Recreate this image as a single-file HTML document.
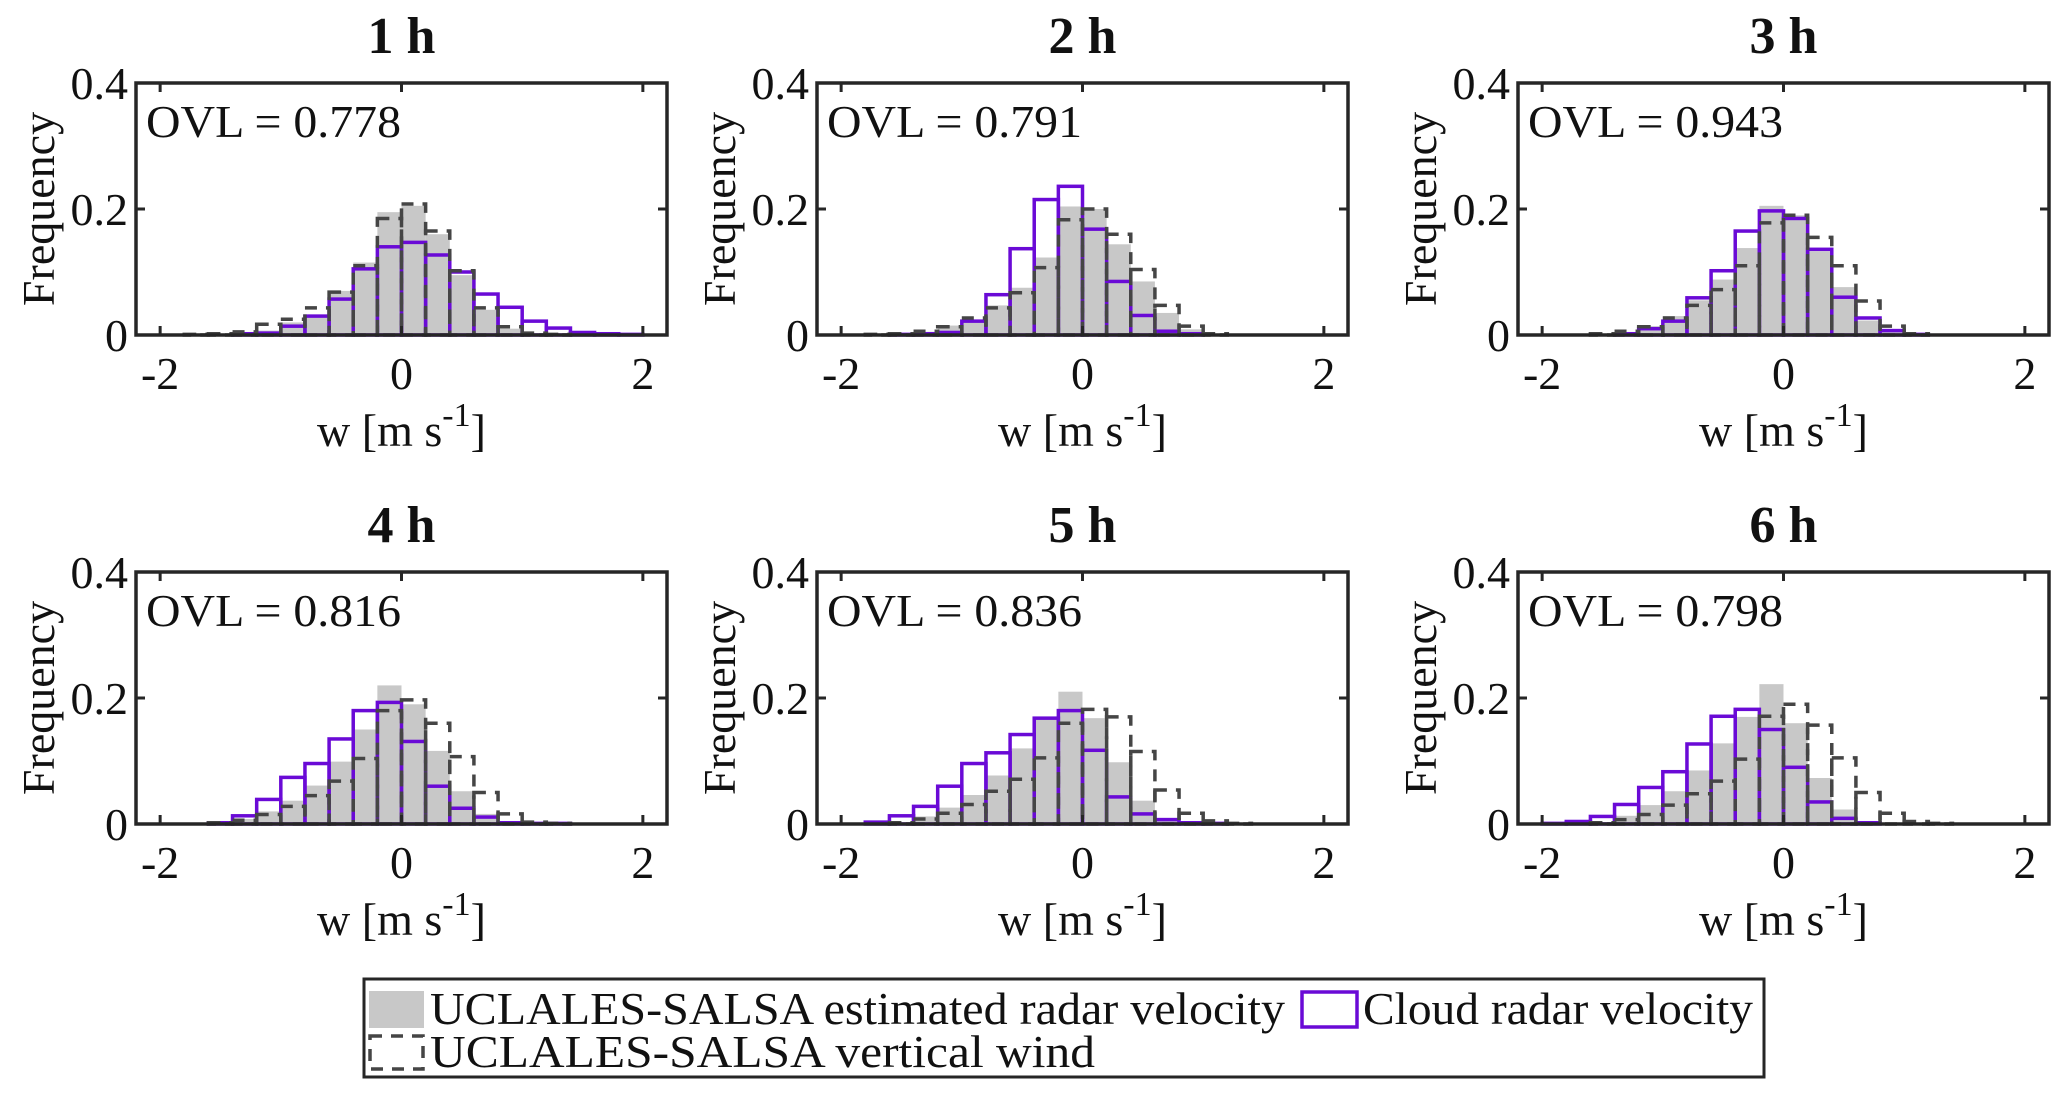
<!DOCTYPE html>
<html><head><meta charset="utf-8">
<style>
html,body{margin:0;padding:0;background:#fff;}
svg{display:block;}
text{font-family:"Liberation Serif","DejaVu Serif",serif;fill:#111;}
</style></head>
<body>
<svg id="fig" width="2067" height="1100" viewBox="0 0 2067 1100" xmlns="http://www.w3.org/2000/svg">
<g id="panels"></g>
<g>
  <rect x="364" y="979" width="1400" height="98" fill="#fff" stroke="#262626" stroke-width="3"/>
  <rect x="369" y="991" width="55" height="37" fill="#c8c8c8"/>
  <text x="430" y="1024" font-size="46" textLength="855" lengthAdjust="spacingAndGlyphs">UCLALES-SALSA estimated radar velocity</text>
  <rect x="1302" y="992" width="55" height="35" fill="none" stroke="#6a0ad6" stroke-width="3.5"/>
  <text x="1363" y="1024" font-size="46" textLength="390" lengthAdjust="spacingAndGlyphs">Cloud radar velocity</text>
  <rect x="370" y="1036" width="53" height="33" fill="none" stroke="#454545" stroke-width="3.5" stroke-dasharray="12,9"/>
  <text x="430" y="1067" font-size="46" textLength="665" lengthAdjust="spacingAndGlyphs">UCLALES-SALSA vertical wind</text>
</g>
</svg>
<script>
// bin left edges from -2.0 to 1.8 step 0.2
const binEdges = [-2.0,-1.8,-1.6,-1.4,-1.2,-1.0,-0.8,-0.6,-0.4,-0.2,0.0,0.2,0.4,0.6,0.8,1.0,1.2,1.4,1.6,1.8];
const binWidth = 0.2;
const panelTitles = ["1 h","2 h","3 h","4 h","5 h","6 h"];
const ovlValues = ["0.778","0.791","0.943","0.816","0.836","0.798"];
const xTicks = [-2,0,2];
const xTickLabels = ["-2","0","2"];
const yTicks = [0,0.2,0.4];
const yTickLabels = ["0","0.2","0.4"];

const gray1 = [0,0,0,0.002,0.007,0.02,0.03,0.07,0.115,0.195,0.205,0.16,0.095,0.04,0.01,0.001,0,0,0,0];
const purple1 = [0,0,0,0.002,0.003,0.014,0.03,0.057,0.105,0.14,0.147,0.127,0.1,0.065,0.044,0.022,0.011,0.004,0.002,0.001];
const dashed1 = [0,0.001,0.002,0.005,0.017,0.025,0.043,0.068,0.11,0.185,0.208,0.165,0.102,0.043,0.013,0.003,0.001,0,0,0];

const gray2 = [0,0,0.001,0.005,0.015,0.02,0.047,0.075,0.123,0.204,0.2,0.144,0.085,0.035,0.009,0.002,0,0,0,0];
const purple2 = [0,0,0.001,0.002,0.004,0.022,0.064,0.137,0.215,0.236,0.168,0.085,0.031,0.006,0.002,0,0,0,0,0];
const dashed2 = [0,0.001,0.002,0.006,0.013,0.027,0.043,0.067,0.107,0.183,0.2,0.16,0.104,0.047,0.014,0.002,0,0,0,0];

const gray3 = [0,0,0,0.004,0.014,0.03,0.055,0.088,0.138,0.205,0.19,0.133,0.076,0.023,0.006,0.001,0,0,0,0];
const purple3 = [0,0,0,0.002,0.01,0.022,0.059,0.102,0.165,0.197,0.185,0.136,0.06,0.027,0.007,0.001,0,0,0,0];
const dashed3 = [0,0,0.002,0.006,0.013,0.027,0.047,0.072,0.11,0.178,0.19,0.155,0.11,0.054,0.014,0.002,0,0,0,0];

const gray4 = [0,0,0.002,0.008,0.02,0.037,0.061,0.099,0.15,0.22,0.19,0.116,0.052,0.016,0.003,0,0,0,0,0];
const purple4 = [0,0,0.002,0.013,0.039,0.074,0.096,0.135,0.18,0.193,0.131,0.06,0.025,0.011,0.002,0.001,0.001,0,0,0];
const dashed4 = [0,0,0.002,0.006,0.015,0.028,0.045,0.068,0.104,0.18,0.197,0.16,0.107,0.05,0.016,0.003,0.001,0,0,0];

const gray5 = [0,0,0.002,0.012,0.026,0.046,0.077,0.12,0.166,0.21,0.168,0.098,0.037,0.007,0.002,0,0,0,0,0];
const purple5 = [0,0.003,0.013,0.028,0.06,0.096,0.113,0.142,0.168,0.18,0.117,0.043,0.016,0.007,0.002,0.001,0,0,0,0];
const dashed5 = [0,0,0.002,0.008,0.017,0.031,0.052,0.071,0.105,0.16,0.182,0.17,0.115,0.054,0.017,0.005,0.001,0,0,0];

const gray6 = [0,0,0.003,0.013,0.03,0.052,0.085,0.128,0.17,0.222,0.16,0.073,0.023,0.004,0,0,0,0,0,0];
const purple6 = [0.001,0.004,0.012,0.031,0.058,0.083,0.127,0.171,0.182,0.15,0.09,0.035,0.009,0.002,0,0,0,0,0,0];
const dashed6 = [0,0,0.002,0.007,0.015,0.03,0.048,0.068,0.103,0.171,0.19,0.157,0.105,0.05,0.017,0.004,0.001,0,0,0];

const grayData = [gray1,gray2,gray3,gray4,gray5,gray6];
const purpleData = [purple1,purple2,purple3,purple4,purple5,purple6];
const dashedData = [dashed1,dashed2,dashed3,dashed4,dashed5,dashed6];

const NS = "http://www.w3.org/2000/svg";
const root = document.getElementById("panels");
const colX = [136, 817, 1518];
const rowY = [83, 572];
const AW = 531, AH = 252;
const XMIN = -2.2, XMAX = 2.2, YMAX = 0.4;

function mk(tag, attrs, parent){
  const e = document.createElementNS(NS, tag);
  for (const k in attrs) e.setAttribute(k, attrs[k]);
  parent.appendChild(e);
  return e;
}

for (let p = 0; p < 6; p++) {
  const x0 = colX[p % 3], y0 = rowY[Math.floor(p / 3)];
  const sx = v => x0 + (v - XMIN) / (XMAX - XMIN) * AW;
  const sy = v => y0 + AH - v / YMAX * AH;
  const g = mk("g", {}, root);
  
  

  const gGray = mk("g", {}, g);
  
  
  grayData[p].forEach((v, i) => {
    if (v <= 0) return;
    const r = mk("rect", {x: sx(binEdges[i]), y: sy(v), width: sx(binEdges[i] + binWidth) - sx(binEdges[i]), height: sy(0) - sy(v), fill: "#c8c8c8"}, gGray);
    
    
  });

  const gPur = mk("g", {}, g);
  
  
  purpleData[p].forEach((v, i) => {
    if (v <= 0) return;
    const r = mk("rect", {x: sx(binEdges[i]), y: sy(v), width: sx(binEdges[i] + binWidth) - sx(binEdges[i]), height: sy(0) - sy(v), fill: "none", stroke: "#6a0ad6", "stroke-width": 3.5}, gPur);
    
    
  });

  const gDash = mk("g", {}, g);
  
  
  dashedData[p].forEach((v, i) => {
    if (v <= 0) return;
    const r = mk("rect", {x: sx(binEdges[i]), y: sy(v), width: sx(binEdges[i] + binWidth) - sx(binEdges[i]), height: sy(0) - sy(v), fill: "none", stroke: "#454545", "stroke-width": 3.5, "stroke-dasharray": "12,9"}, gDash);
    
    
  });

  const box = mk("rect", {x: x0, y: y0, width: AW, height: AH, fill: "none", stroke: "#262626", "stroke-width": 3.5}, g);
  
  

  xTicks.forEach((t, i) => {
    const X = sx(t);
    mk("line", {x1: X, x2: X, y1: y0 + AH, y2: y0 + AH - 9, stroke: "#262626", "stroke-width": 3}, g);
    mk("line", {x1: X, x2: X, y1: y0, y2: y0 + 9, stroke: "#262626", "stroke-width": 3}, g);
    const tl = mk("text", {x: X, y: y0 + AH + 54, "font-size": 46, "text-anchor": "middle"}, g);
    tl.textContent = xTickLabels[i];
    
    
  });
  yTicks.forEach((t, i) => {
    const Y = sy(t);
    mk("line", {x1: x0, x2: x0 + 9, y1: Y, y2: Y, stroke: "#262626", "stroke-width": 3}, g);
    mk("line", {x1: x0 + AW, x2: x0 + AW - 9, y1: Y, y2: Y, stroke: "#262626", "stroke-width": 3}, g);
    const tl = mk("text", {x: x0 - 8, y: Y + 16, "font-size": 46, "text-anchor": "end"}, g);
    tl.textContent = yTickLabels[i];
    
    
  });

  const title = mk("text", {x: x0 + AW / 2, y: y0 - 30, "font-size": 52, "font-weight": "bold", "text-anchor": "middle"}, g);
  title.textContent = panelTitles[p];
  
  

  const ovl = mk("text", {x: x0 + 10, y: y0 + 54, "font-size": 46, textLength: 255, lengthAdjust: "spacingAndGlyphs"}, g);
  ovl.textContent = "OVL = " + ovlValues[p];
  
  

  const xl = mk("text", {x: x0 + AW / 2, y: y0 + AH + 111, "font-size": 46, "text-anchor": "middle"}, g);
  
  
  xl.textContent = "w [m s";
  const sup = mk("tspan", {dy: -20, "font-size": 34}, xl);
  sup.textContent = "-1";
  const cl = mk("tspan", {dy: 20, "font-size": 46}, xl);
  cl.textContent = "]";

  const yl = mk("text", {x: 0, y: 0, "font-size": 46, "text-anchor": "middle", transform: "translate(" + (x0 - 82) + "," + (y0 + AH / 2) + ") rotate(-90)"}, g);
  yl.textContent = "Frequency";
  
  
}
</script>
</body></html>
